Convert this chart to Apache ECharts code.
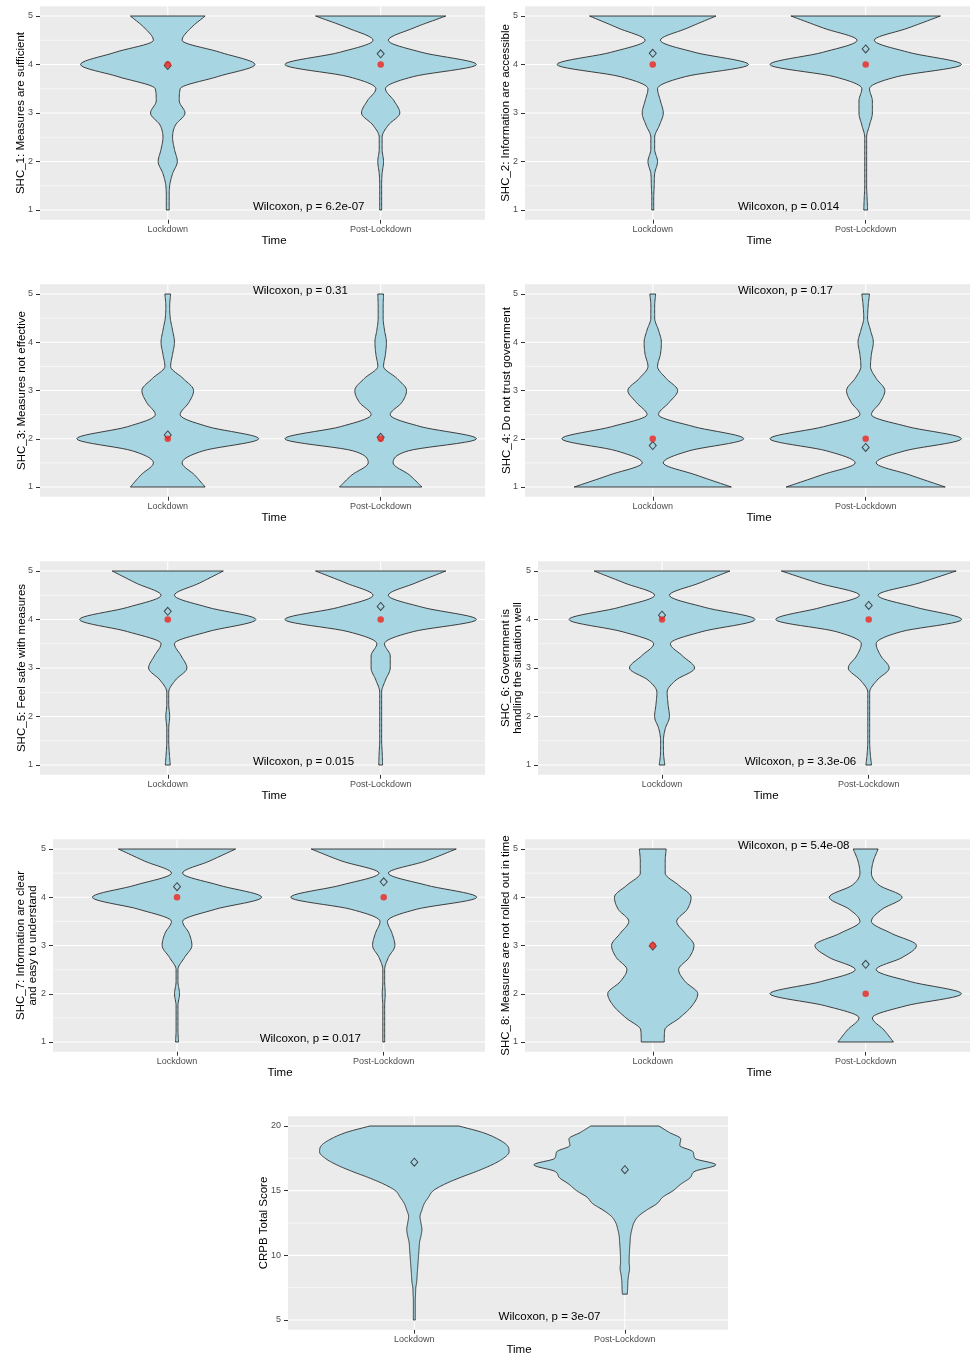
<!DOCTYPE html>
<html><head><meta charset="utf-8"><title>Violin plots</title>
<script src="https://cdn.jsdelivr.net/npm/echarts@6.0.0/dist/echarts.min.js"></script>
<style>html,body{margin:0;padding:0;background:#fff;}#chart{width:971px;height:1354px;}</style>
</head><body><div id="chart"></div>
<script>
// ---------------- data ----------------
const categories = ['Lockdown', 'Post-Lockdown'];
const likertTicks = [1, 2, 3, 4, 5];
const likertMinorTicks = [1.5, 2.5, 3.5, 4.5];
const crpbTicks = [5, 10, 15, 20];
const crpbMinorTicks = [7.5, 12.5, 17.5];

// response levels at which the violin outline widths were read
const likertLevels = [1, 1.25, 1.5, 1.75, 2, 2.25, 2.5, 2.75, 3, 3.25, 3.5, 3.75, 4, 4.25, 4.5, 4.75, 5];
const crpbLevelsLockdown = [5, 5.5, 6, 6.5, 7, 7.5, 8, 8.5, 9, 9.5, 10, 10.5, 11, 11.5, 12, 12.5, 13, 13.5, 14, 14.5, 15, 15.5, 16, 16.5, 17, 17.5, 18, 18.5, 19, 19.5, 20];
const crpbLevelsPost = [7, 7.5, 8, 8.5, 9, 9.5, 10, 10.5, 11, 11.5, 12, 12.5, 13, 13.5, 14, 14.5, 15, 15.5, 16, 16.5, 17, 17.5, 18, 18.5, 19, 19.5, 20];

// violin half-widths (relative density; widest violin of a panel = 100)
const shc1Lockdown = [1.5, 1.5, 2, 5, 10, 7, 5, 8, 18, 12, 13, 52, 91, 55, 15, 24, 39];
const shc1Post     = [1, 1, 1, 1.5, 3, 1.5, 1.5, 8, 20, 14, 5, 34, 100, 43, 8, 34, 68];
const shc2Lockdown = [1, 1, 1.5, 2, 5, 2, 2, 7, 11, 8, 5, 34, 100, 44, 8, 36, 66];
const shc2Post     = [2, 1.5, 1, 1, 1, 1, 1, 4, 7, 7, 4, 33, 100, 45, 9, 44, 78];
const shc3Lockdown = [39, 28, 15, 37, 95, 42, 13, 22, 27, 16, 3, 5, 7, 5, 2.6, 2, 3];
const shc3Post     = [43, 30, 13, 29, 100, 42, 10, 22, 27, 17, 3, 5, 6, 4, 2.6, 2.6, 3];
const shc4Lockdown = [82, 45, 11, 38, 95, 43, 6, 17, 26, 14, 5, 8, 9, 6, 2, 2, 3];
const shc4Post     = [83, 46, 11, 41, 100, 44, 6, 15, 20, 11, 5, 6, 8, 5, 2, 2.6, 4];
const shc5Lockdown = [2.6, 1.6, 1, 1, 2, 1, 1, 8, 20, 14, 7, 42, 92, 42, 7, 33, 58];
const shc5Post     = [2, 1.6, 1, 1, 1, 1, 1, 5, 10, 10, 4, 34, 100, 44, 8, 36, 68];
const shc6Lockdown = [3, 1.6, 1.5, 3.5, 8, 6.5, 5.5, 15, 35, 22, 9, 43, 100, 46, 8, 40, 73];
const shc6Post     = [3, 1.6, 1, 1, 1, 1, 1, 9, 22, 13, 8, 35, 100, 51, 10, 54, 94];
const shc7Lockdown = [1.6, 1, 1, 1, 2.7, 1, 1, 8, 16, 13, 6, 41, 91, 45, 6, 35, 63];
const shc7Post     = [1, 1, 1, 1, 1.6, 1, 1, 5, 12, 9, 4, 35, 100, 46, 5, 45, 78];
const shc8Lockdown = [12, 12.5, 28, 41, 47, 34, 27, 38, 43, 34, 25, 36, 40, 27, 13, 13, 14];
const shc8Post     = [29, 19, 7, 42, 100, 47, 11, 38, 53, 27, 6, 17, 38, 14, 6, 8, 13];
const crpbLockdown = [1, 1, 1, 1, 1.3, 1.6, 2.6, 3, 3.5, 4, 4.5, 5, 5.5, 7, 8, 7, 6, 8, 10.5, 15, 20, 32, 48, 66, 82, 94, 100, 98, 88, 72, 47];
const crpbPost     = [2.6, 3, 3.2, 4, 5, 4.5, 4.7, 5, 5.5, 6, 7.4, 9.5, 14, 23, 34, 40, 51, 59, 69, 74, 96, 74, 72, 58, 59, 47, 36];

const axisTitles = [
  'SHC_1: Measures are sufficient',
  'SHC_2: Information are accessible',
  'SHC_3: Measures not effective',
  'SHC_4: Do not trust government',
  'SHC_5: Feel safe with measures',
  'SHC_6: Government is\nhandling the situation well',
  'SHC_7: Information are clear\nand easy to understand',
  'SHC_8: Measures are not rolled out in time',
  'CRPB Total Score'
];
const pValueLabels = [
  'Wilcoxon, p = 6.2e-07', 'Wilcoxon, p = 0.014', 'Wilcoxon, p = 0.31', 'Wilcoxon, p = 0.17',
  'Wilcoxon, p = 0.015', 'Wilcoxon, p = 3.3e-06', 'Wilcoxon, p = 0.017', 'Wilcoxon, p = 5.4e-08',
  'Wilcoxon, p = 3e-07'
];
const meansLockdown = [3.98, 4.23, 2.08, 1.86, 4.17, 4.09, 4.22, 2.99, 17.2];
const meansPost     = [4.22, 4.32, 2.03, 1.82, 4.27, 4.29, 4.32, 2.61, 16.62];
const mediansLockdown = [4, 4, 2, 2, 4, 4, 4, 3];
const mediansPost     = [4, 4, 2, 2, 4, 4, 4, 2];

// ---------------- panels ----------------
const panelData = [
  { levels: [likertLevels, likertLevels], widths: [shc1Lockdown, shc1Post], ticks: likertTicks, minor: likertMinorTicks, pTop: false },
  { levels: [likertLevels, likertLevels], widths: [shc2Lockdown, shc2Post], ticks: likertTicks, minor: likertMinorTicks, pTop: false },
  { levels: [likertLevels, likertLevels], widths: [shc3Lockdown, shc3Post], ticks: likertTicks, minor: likertMinorTicks, pTop: true },
  { levels: [likertLevels, likertLevels], widths: [shc4Lockdown, shc4Post], ticks: likertTicks, minor: likertMinorTicks, pTop: true },
  { levels: [likertLevels, likertLevels], widths: [shc5Lockdown, shc5Post], ticks: likertTicks, minor: likertMinorTicks, pTop: false },
  { levels: [likertLevels, likertLevels], widths: [shc6Lockdown, shc6Post], ticks: likertTicks, minor: likertMinorTicks, pTop: false },
  { levels: [likertLevels, likertLevels], widths: [shc7Lockdown, shc7Post], ticks: likertTicks, minor: likertMinorTicks, pTop: false },
  { levels: [likertLevels, likertLevels], widths: [shc8Lockdown, shc8Post], ticks: likertTicks, minor: likertMinorTicks, pTop: true },
  { levels: [crpbLevelsLockdown, crpbLevelsPost], widths: [crpbLockdown, crpbPost], ticks: crpbTicks, minor: crpbMinorTicks, pTop: false }
];

// layout (pixels)
const layout = [
  { left: 40,  top: 6.3,    width: 445, height: 213.4, titleX: 21,  timeX: 274, timeY: 241 },
  { left: 525, top: 6.3,    width: 445, height: 213.4, titleX: 506, timeX: 759, timeY: 241 },
  { left: 40,  top: 284.35, width: 445, height: 212.3, titleX: 22,  timeX: 274, timeY: 518 },
  { left: 525, top: 284.35, width: 445, height: 212.3, titleX: 507, timeX: 759, timeY: 518 },
  { left: 40,  top: 561.3,  width: 445, height: 213.4, titleX: 22,  timeX: 274, timeY: 796 },
  { left: 538, top: 561.3,  width: 432, height: 213.4, titleX: 512, timeX: 766, timeY: 796 },
  { left: 53,  top: 839.35, width: 432, height: 212.3, titleX: 27,  timeX: 280, timeY: 1073 },
  { left: 525, top: 839.35, width: 445, height: 212.3, titleX: 506, timeX: 759, timeY: 1073 },
  { left: 288, top: 1116.3, width: 440, height: 213.4, titleX: 264, timeX: 519, timeY: 1350 }
];

const FONT = '"Liberation Sans", Arial, Helvetica, sans-serif';
const FILL = '#A8D5E2';
const MAX_HALF = 0.45;           // half of ggplot's 0.9 violin width
const X_MIN = 0.4, X_MAX = 2.49; // visible part of the discrete x range
const P_LABEL_X = 1.4;
const categoryPos = categories.map((c, i) => i + 1);

// monotone cubic curve through the read outline widths (drawing only)
function smoothOutline(ys, ws, sub) {
  const n = ys.length, d = [], m = new Array(n);
  for (let i = 0; i < n - 1; i++) d.push((ws[i + 1] - ws[i]) / (ys[i + 1] - ys[i]));
  m[0] = d[0]; m[n - 1] = d[n - 2];
  for (let i = 1; i < n - 1; i++) m[i] = (d[i - 1] * d[i] <= 0) ? 0 : (d[i - 1] + d[i]) / 2;
  for (let i = 0; i < n - 1; i++) {
    if (d[i] === 0) { m[i] = 0; m[i + 1] = 0; continue; }
    const a = m[i] / d[i], b = m[i + 1] / d[i], s = a * a + b * b;
    if (s > 9) { const t = 3 / Math.sqrt(s); m[i] = t * a * d[i]; m[i + 1] = t * b * d[i]; }
  }
  const out = [];
  for (let i = 0; i < n - 1; i++) {
    const h = ys[i + 1] - ys[i];
    for (let k = 0; k < sub; k++) {
      const t = k / sub, t2 = t * t, t3 = t2 * t;
      const w = (2 * t3 - 3 * t2 + 1) * ws[i] + (t3 - 2 * t2 + t) * h * m[i] +
                (-2 * t3 + 3 * t2) * ws[i + 1] + (t3 - t2) * h * m[i + 1];
      out.push([ys[i] + t * h, w]);
    }
  }
  out.push([ys[n - 1], ws[n - 1]]);
  return out;
}

const option = { animation: false, backgroundColor: '#ffffff', grid: [], xAxis: [], yAxis: [], series: [], graphic: [] };

panelData.forEach((pd, i) => {
  const L = layout[i];
  const lo = pd.ticks[0], hi = pd.ticks[pd.ticks.length - 1], pad = (hi - lo) * 0.05;
  option.grid.push({ left: L.left, top: L.top, width: L.width, height: L.height, show: true,
    backgroundColor: '#EBEBEB', borderWidth: 0, containLabel: false, outerBoundsMode: 'none' });
  option.xAxis.push({ gridIndex: i, type: 'value', min: X_MIN, max: X_MAX,
    axisLine: { show: false }, splitLine: { show: false },
    axisTick: { show: true, length: 4, lineStyle: { color: '#333333', width: 1 }, customValues: categoryPos },
    axisLabel: { customValues: categoryPos, formatter: v => categories[Math.round(v) - 1] || '',
      color: '#4D4D4D', fontSize: 9, fontFamily: FONT, margin: 5 } });
  option.yAxis.push({ gridIndex: i, type: 'value', min: lo - pad, max: hi + pad,
    axisLine: { show: false }, splitLine: { show: false },
    axisTick: { show: true, length: 4, lineStyle: { color: '#333333', width: 1 }, customValues: pd.ticks },
    axisLabel: { customValues: pd.ticks, color: '#4D4D4D', fontSize: 9, fontFamily: FONT, margin: 7 } });

  // grid lines
  const gridData = pd.ticks.map(v => [categoryPos[0], v, 1, 0])
    .concat(pd.minor.map(v => [categoryPos[0], v, 0, 0]))
    .concat(categoryPos.map(c => [c, lo, 1, 1]));
  option.series.push({ type: 'custom', xAxisIndex: i, yAxisIndex: i, z: 1, silent: true, clip: false,
    data: gridData,
    renderItem: (params, api) => {
      const cs = params.coordSys;
      const p = api.coord([api.value(0), api.value(1)]);
      const vertical = api.value(3) === 1, major = api.value(2) === 1;
      const shape = vertical ? { x1: p[0], y1: cs.y, x2: p[0], y2: cs.y + cs.height }
                             : { x1: cs.x, y1: p[1], x2: cs.x + cs.width, y2: p[1] };
      return { type: 'line', shape, style: { stroke: '#FFFFFF', lineWidth: major ? 1.1 : 0.55 } };
    } });

  // violins
  option.series.push({ type: 'custom', xAxisIndex: i, yAxisIndex: i, z: 2, silent: true, clip: false,
    data: categoryPos.map((c, g) => [c, pd.levels[g][0]]),
    renderItem: (params, api) => {
      const g = params.dataIndex, xc = api.value(0);
      const pts = smoothOutline(pd.levels[g], pd.widths[g], 10);
      const hw = w => Math.max(w, 0.5) / 100 * MAX_HALF;
      const right = pts.map(([y, w]) => api.coord([xc + hw(w), y]));
      const left = pts.slice().reverse().map(([y, w]) => api.coord([xc - hw(w), y]));
      return { type: 'polygon', shape: { points: right.concat(left) },
        style: { fill: FILL, stroke: '#2B2B2B', lineWidth: 0.9 } };
    } });

  // means (open diamonds)
  option.series.push({ type: 'scatter', xAxisIndex: i, yAxisIndex: i, z: 3, silent: true,
    symbol: 'diamond', symbolSize: [7, 8],
    itemStyle: { color: 'rgba(0,0,0,0)', borderColor: '#222222', borderWidth: 1 },
    data: [[categoryPos[0], meansLockdown[i]], [categoryPos[1], meansPost[i]]] });

  // medians (red points)
  if (i < mediansLockdown.length) {
    option.series.push({ type: 'scatter', xAxisIndex: i, yAxisIndex: i, z: 4, silent: true,
      symbol: 'circle', symbolSize: 6.5, itemStyle: { color: '#F0241B' },
      data: [[categoryPos[0], mediansLockdown[i]], [categoryPos[1], mediansPost[i]]] });
  }

  // Wilcoxon label
  option.series.push({ type: 'custom', xAxisIndex: i, yAxisIndex: i, z: 5, silent: true, clip: false,
    data: [[P_LABEL_X, pd.pTop ? hi : lo]],
    renderItem: (params, api) => {
      const p = api.coord([api.value(0), api.value(1)]);
      return { type: 'text', x: p[0], y: p[1] - 3.5,
        style: { text: pValueLabels[i], fill: '#000000', font: '11.5px ' + FONT,
          align: 'left', verticalAlign: 'middle', textAlign: 'left', textVerticalAlign: 'middle' } };
    } });

  // axis titles
  option.graphic.push({ type: 'text', x: L.timeX, y: L.timeY, silent: true,
    style: { text: 'Time', fill: '#000000', font: '11.5px ' + FONT,
      align: 'center', verticalAlign: 'middle', textAlign: 'center', textVerticalAlign: 'middle' } });
  option.graphic.push({ type: 'text', x: L.titleX, y: L.top + L.height / 2, rotation: Math.PI / 2, silent: true,
    style: { text: axisTitles[i], fill: '#000000', font: '11.5px ' + FONT, lineHeight: 12,
      align: 'center', verticalAlign: 'middle', textAlign: 'center', textVerticalAlign: 'middle' } });
});

const chart = echarts.init(document.getElementById('chart'), null, { renderer: 'canvas' });
chart.setOption(option);
</script>
</body></html>
